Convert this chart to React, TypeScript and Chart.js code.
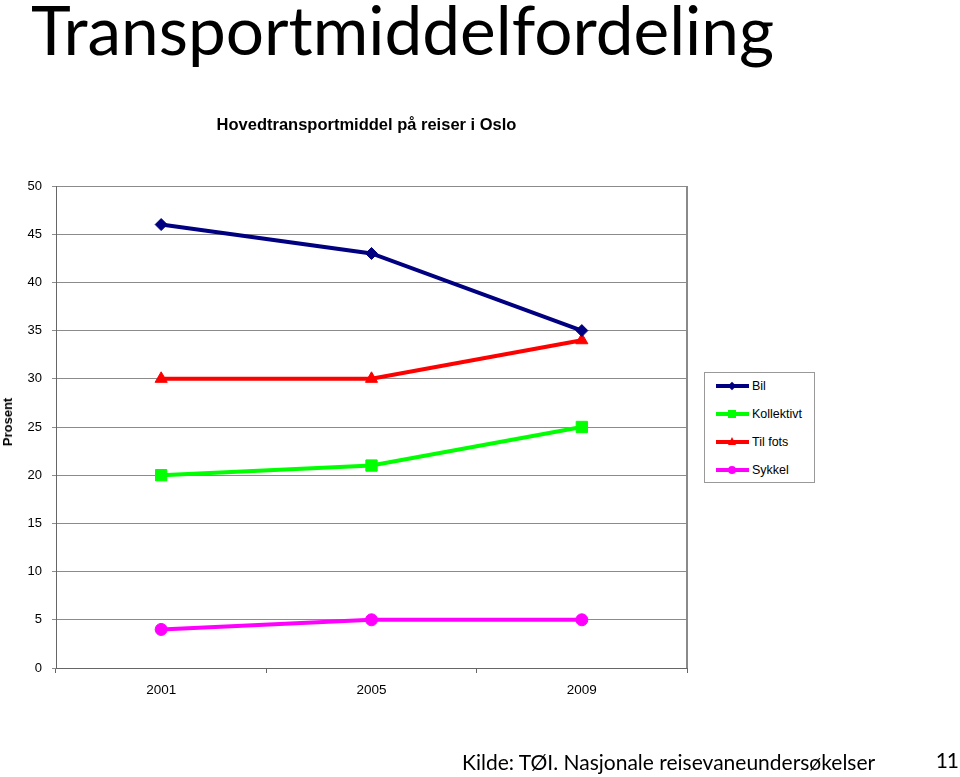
import React, { useEffect, useRef } from "react";
import { Chart, registerables } from "chart.js";

Chart.register(...registerables);

const years = ["2001", "2005", "2009"];
const bil = [46, 43, 35];
const kollektivt = [20, 21, 25];
const tilFots = [30, 30, 34];
const sykkel = [4, 5, 5];
const yTicks = [0, 5, 10, 15, 20, 25, 30, 35, 40, 45, 50];

const seriesNames = ["Bil", "Kollektivt", "Til fots", "Sykkel"];
const seriesColors = ["#000080", "#00ff00", "#ff0000", "#ff00ff"];

const borderPlugin = {
  id: "plotBorder",
  afterDraw(chart: any) {
    const { ctx, chartArea } = chart;
    ctx.save();
    ctx.strokeStyle = "#8a8a8a";
    ctx.lineWidth = 2;
    ctx.beginPath();
    ctx.moveTo(chartArea.right, chartArea.top);
    ctx.lineTo(chartArea.right, chartArea.bottom);
    ctx.stroke();
    ctx.restore();
  },
};

function LegendMarker({ i }: { i: number }) {
  const c = seriesColors[i];
  let marker: React.ReactNode = null;
  if (i === 0) {
    marker = (
      <div style={{ position: "absolute", left: 13, top: -3, width: 6, height: 6, background: c, transform: "rotate(45deg)" }} />
    );
  } else if (i === 1) {
    marker = <div style={{ position: "absolute", left: 12, top: -4, width: 8, height: 8, background: c }} />;
  } else if (i === 2) {
    marker = (
      <div
        style={{
          position: "absolute",
          left: 12,
          top: -5,
          width: 0,
          height: 0,
          borderLeft: "4px solid transparent",
          borderRight: "4px solid transparent",
          borderBottom: "8px solid " + c,
        }}
      />
    );
  } else {
    marker = <div style={{ position: "absolute", left: 12, top: -4, width: 8, height: 8, borderRadius: 4, background: c }} />;
  }
  return (
    <div style={{ position: "relative", width: 33, height: 0 }}>
      <div style={{ position: "absolute", left: 0, top: -2, width: 33, height: 4, background: c }} />
      {marker}
    </div>
  );
}

export default function App() {
  const ref = useRef<HTMLCanvasElement | null>(null);

  useEffect(() => {
    if (!ref.current) return;
    const mk = (label: string, data: number[], color: string, style: any, r: number) => ({
      label,
      data,
      borderColor: color,
      backgroundColor: color,
      borderWidth: 4,
      pointStyle: style,
      pointRadius: r,
      pointHoverRadius: r,
      pointBorderWidth: 1,
      pointBorderColor: color,
      pointBackgroundColor: color,
      tension: 0,
    });
    const chart = new Chart(ref.current, {
      type: "line",
      data: {
        labels: years,
        datasets: [
          mk(seriesNames[0], bil, seriesColors[0], "rectRot", 6),
          mk(seriesNames[1], kollektivt, seriesColors[1], "rect", 8),
          mk(seriesNames[2], tilFots, seriesColors[2], "triangle", 7),
          mk(seriesNames[3], sykkel, seriesColors[3], "circle", 6),
        ],
      },
      options: {
        responsive: false,
        animation: false,
        layout: { padding: { left: 0, right: 273, top: 186, bottom: 69 } },
        plugins: { legend: { display: false }, title: { display: false }, tooltip: { enabled: false } },
        scales: {
          x: {
            offset: true,
            afterFit: (s: any) => {
              s.height = 40;
            },
            grid: {
              offset: true,
              drawOnChartArea: false,
              drawTicks: true,
              tickLength: 5,
              color: "#666",
            },
            border: { display: true, color: "#666", width: 1 },
            ticks: { color: "#000", padding: 9, font: { family: "Arial, 'Liberation Sans'", size: 13.5 } },
          },
          y: {
            min: 0,
            max: 50,
            afterFit: (s: any) => {
              s.width = 56;
            },
            afterBuildTicks: (s: any) => {
              s.ticks = yTicks.map((v) => ({ value: v }));
            },
            grid: { color: "#8c8c8c", lineWidth: 1, tickLength: 4, drawTicks: true },
            border: { display: true, color: "#666", width: 1 },
            ticks: { color: "#000", padding: 10, font: { family: "Arial, 'Liberation Sans'", size: 13 } },
          },
        },
      },
      plugins: [borderPlugin],
    });
    return () => chart.destroy();
  }, []);

  return (
    <div style={{ position: "absolute", left: 0, top: 0, width: 960, height: 777, background: "#fff", overflow: "hidden" }}>
      <canvas ref={ref} width={960} height={777} style={{ position: "absolute", left: 0, top: 0, width: 960, height: 777 }} />
      <div
        style={{
          position: "absolute",
          left: 31,
          top: -9,
          fontFamily: "Lato, 'Noto Sans', sans-serif",
          fontSize: 67.5,
          lineHeight: "76px",
          color: "#000",
          whiteSpace: "nowrap",
        }}
      >
        Transportmiddelfordeling
      </div>
      <div
        style={{
          position: "absolute",
          left: 0,
          width: 733,
          top: 114,
          textAlign: "center",
          fontFamily: "'Liberation Sans Narrow', 'Arial Narrow', Arial, sans-serif",
          fontWeight: "bold",
          fontSize: 16.5,
          lineHeight: "20px",
          color: "#000",
          whiteSpace: "nowrap",
        }}
      >
        Hovedtransportmiddel på reiser i Oslo
      </div>
      <div
        style={{
          position: "absolute",
          left: 8,
          top: 422,
          transform: "translate(-50%, -50%) rotate(-90deg)",
          fontFamily: "Arial, 'Liberation Sans', sans-serif",
          fontWeight: "bold",
          fontSize: 13,
          lineHeight: "16px",
          color: "#000",
          whiteSpace: "nowrap",
        }}
      >
        Prosent
      </div>
      <div
        style={{
          position: "absolute",
          left: 704,
          top: 372,
          width: 109,
          height: 109,
          border: "1px solid #999",
          background: "#fff",
          fontFamily: "Arial, 'Liberation Sans', sans-serif",
          fontSize: 12.5,
          color: "#000",
        }}
      >
        {seriesNames.map((n, i) => (
          <div key={n} style={{ position: "absolute", left: 11, top: 13 + i * 28, display: "flex", alignItems: "center" }}>
            <LegendMarker i={i} />
            <span style={{ position: "absolute", left: 36, top: -8, lineHeight: "16px", whiteSpace: "nowrap" }}>{n}</span>
          </div>
        ))}
      </div>
      <div
        style={{
          position: "absolute",
          left: 462,
          top: 748,
          fontFamily: "Lato, 'Noto Sans', sans-serif",
          fontSize: 21,
          lineHeight: "28px",
          color: "#000",
          whiteSpace: "nowrap",
        }}
      >
        Kilde: TØI. Nasjonale reisevaneundersøkelser
      </div>
      <div
        style={{
          position: "absolute",
          right: 2,
          top: 746,
          fontFamily: "Lato, 'Noto Sans', sans-serif",
          fontSize: 21,
          lineHeight: "28px",
          letterSpacing: -1,
          color: "#000",
          whiteSpace: "nowrap",
        }}
      >
        11
      </div>
    </div>
  );
}
